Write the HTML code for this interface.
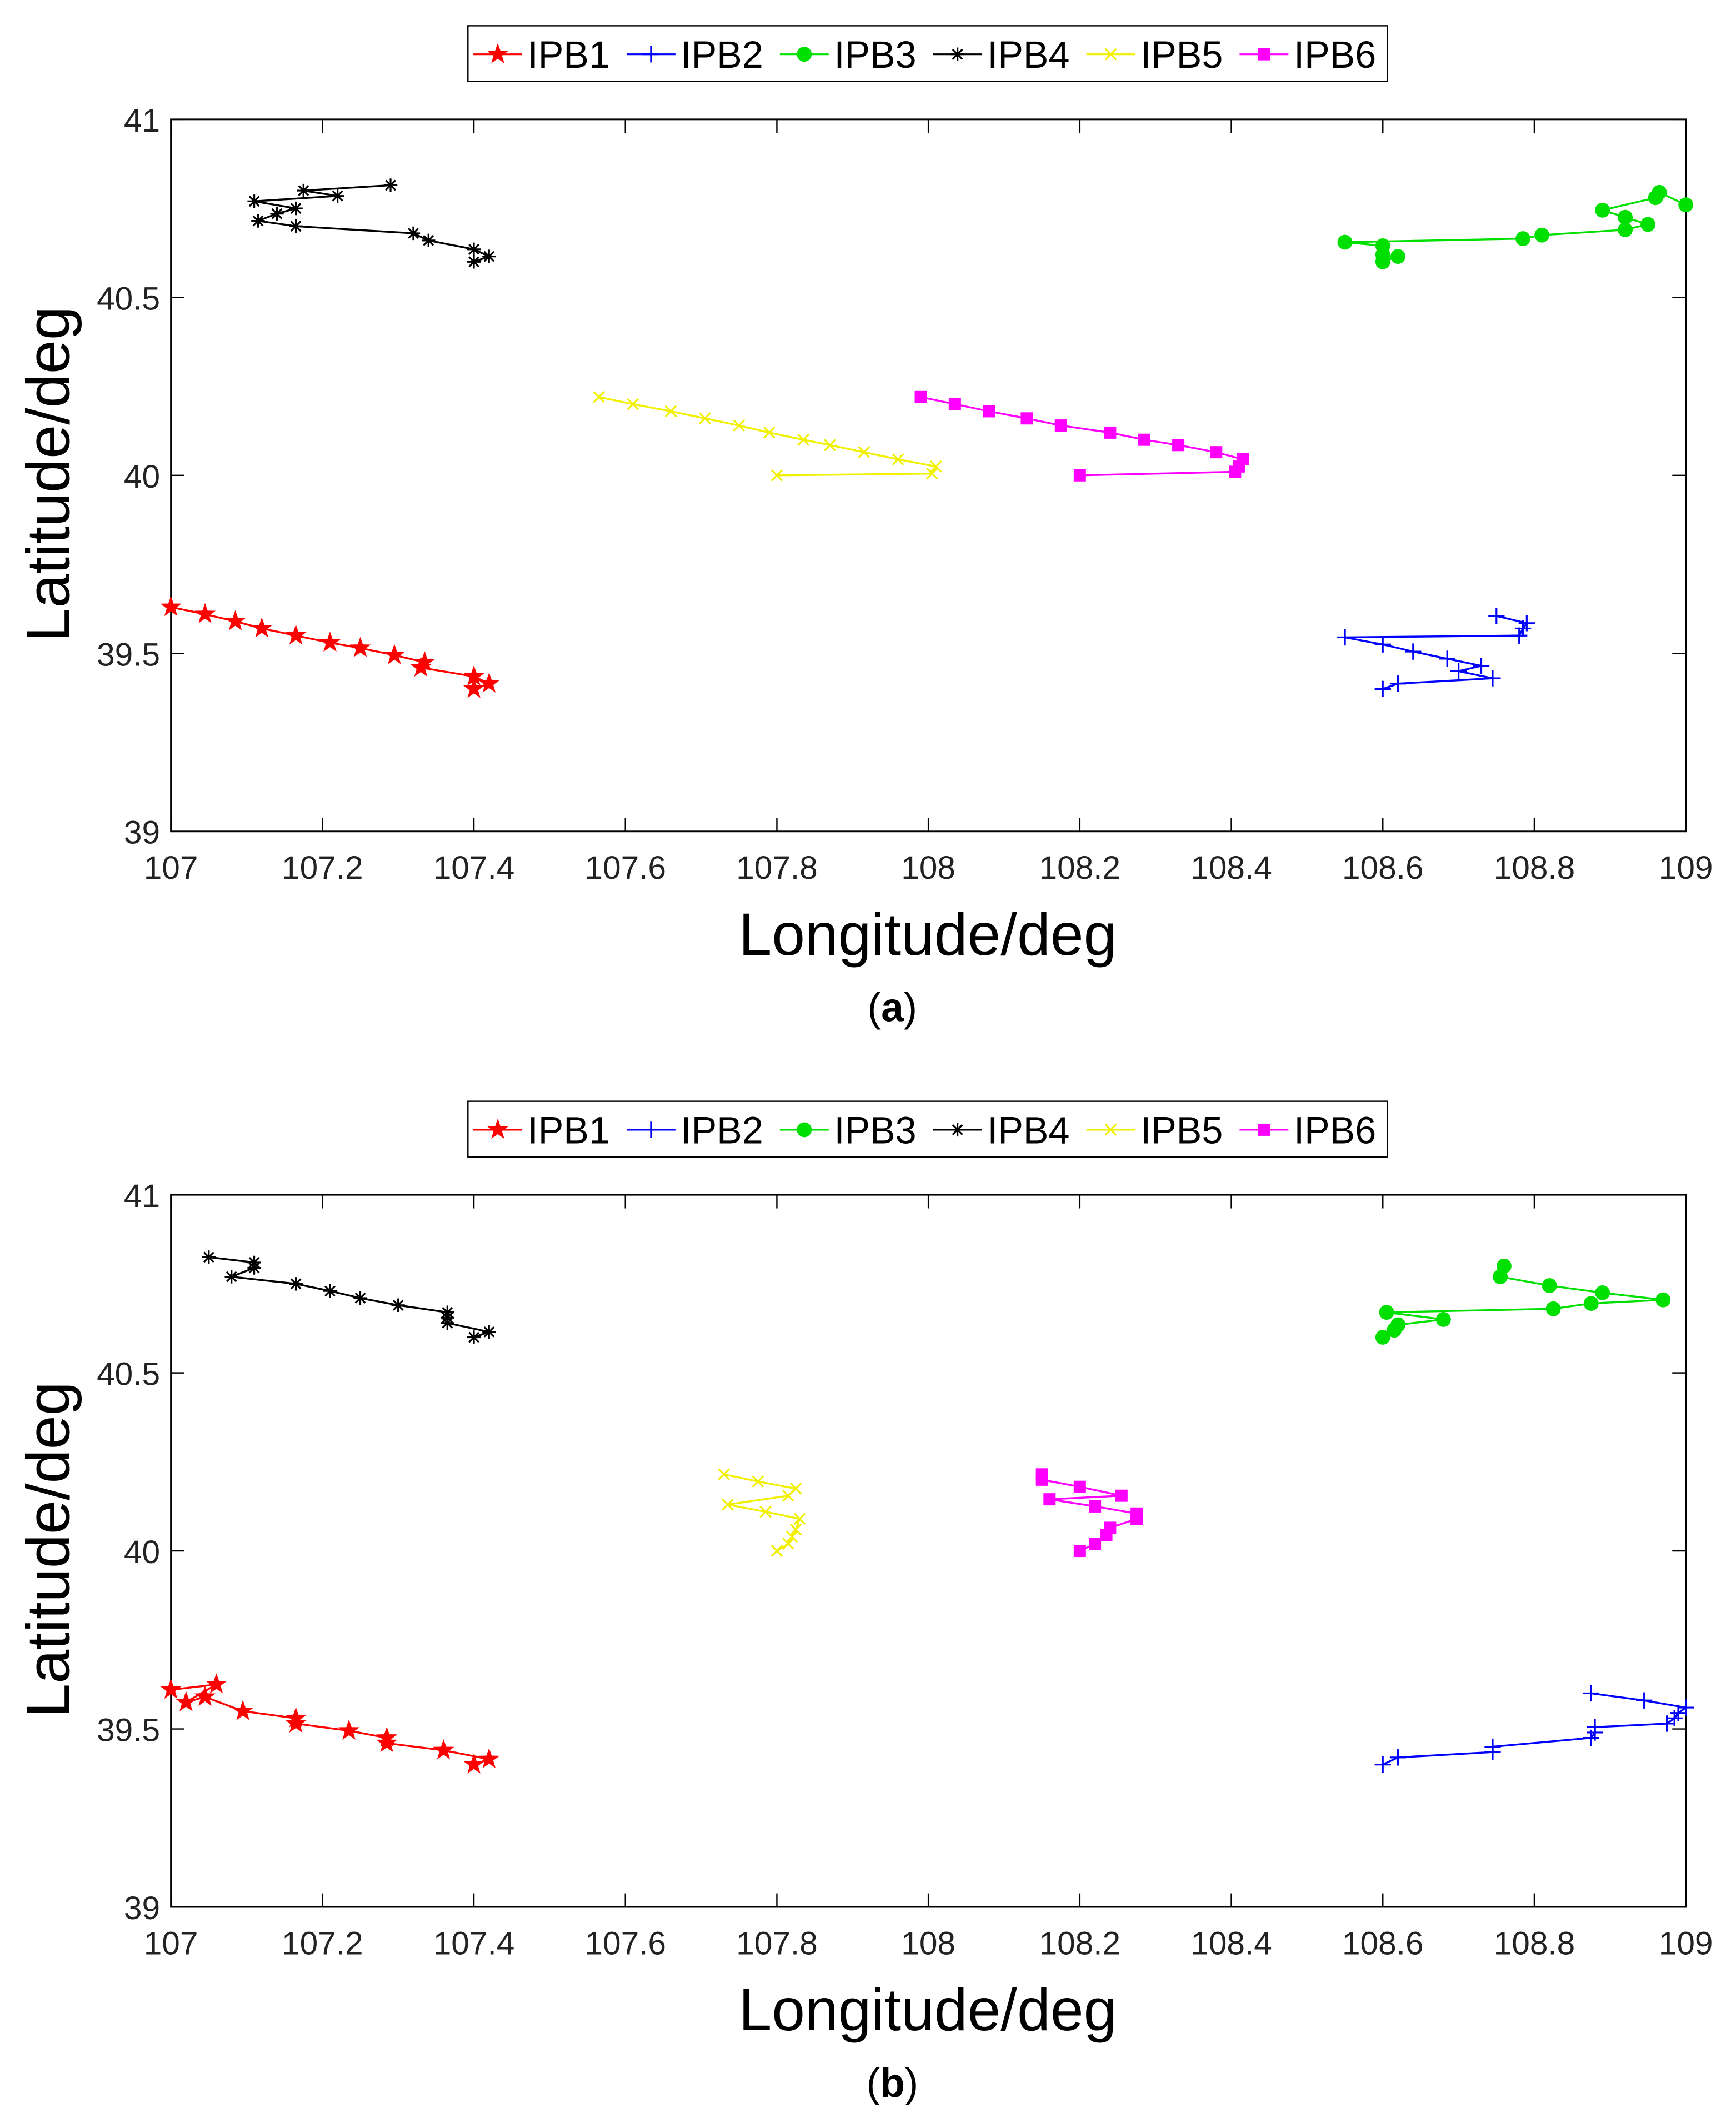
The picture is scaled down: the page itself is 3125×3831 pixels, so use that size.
<!DOCTYPE html>
<html><head><meta charset="utf-8"><style>
html,body{margin:0;padding:0;background:#fff;}
svg{display:block;}
text{font-family:"Liberation Sans",Arial,sans-serif;}
</style></head><body>
<svg id="fig" width="3125" height="3831" viewBox="0 0 1280 1569" preserveAspectRatio="none" xmlns="http://www.w3.org/2000/svg"></svg>
<script>
const xTicks=[107,107.2,107.4,107.6,107.8,108,108.2,108.4,108.6,108.8,109];
const xTickLabels=["107","107.2","107.4","107.6","107.8","108","108.2","108.4","108.6","108.8","109"];
const yTicks=[39,39.5,40,40.5,41];
const yTickLabels=["39","39.5","40","40.5","41"];
const seriesNames=["IPB1","IPB2","IPB3","IPB4","IPB5","IPB6"];
// panel (a)
const a_IPB1_lon=[107,107.045,107.085,107.12,107.165,107.21,107.25,107.295,107.335,107.33,107.4,107.42,107.4];
const a_IPB1_lat=[39.63,39.61,39.59,39.57,39.55,39.53,39.515,39.495,39.475,39.46,39.435,39.415,39.4];
const a_IPB2_lon=[108.75,108.79,108.785,108.78,108.55,108.6,108.64,108.685,108.73,108.7,108.745,108.62,108.6];
const a_IPB2_lat=[39.605,39.585,39.57,39.55,39.545,39.525,39.505,39.485,39.465,39.45,39.43,39.415,39.4];
const a_IPB3_lon=[109,108.965,108.96,108.89,108.92,108.95,108.92,108.81,108.785,108.55,108.6,108.6,108.6,108.62];
const a_IPB3_lat=[40.76,40.795,40.78,40.745,40.725,40.705,40.69,40.675,40.665,40.655,40.645,40.62,40.6,40.615];
const a_IPB4_lon=[107.29,107.175,107.22,107.11,107.165,107.14,107.115,107.165,107.32,107.34,107.4,107.42,107.4];
const a_IPB4_lat=[40.815,40.8,40.785,40.77,40.75,40.735,40.715,40.7,40.68,40.66,40.635,40.615,40.6];
const a_IPB5_lon=[107.565,107.61,107.66,107.705,107.75,107.79,107.835,107.87,107.915,107.96,108.01,108.005,107.8];
const a_IPB5_lat=[40.22,40.2,40.18,40.16,40.14,40.12,40.1,40.085,40.065,40.045,40.025,40.005,40];
const a_IPB6_lon=[107.99,108.035,108.08,108.13,108.175,108.24,108.285,108.33,108.38,108.415,108.41,108.405,108.2];
const a_IPB6_lat=[40.22,40.2,40.18,40.16,40.14,40.12,40.1,40.085,40.065,40.045,40.025,40.01,40];
// panel (b)
const b_IPB1_lon=[107,107.06,107.02,107.045,107.095,107.165,107.165,107.235,107.285,107.285,107.36,107.42,107.4];
const b_IPB1_lat=[39.61,39.625,39.575,39.59,39.55,39.53,39.515,39.495,39.475,39.46,39.44,39.415,39.4];
const b_IPB2_lon=[108.875,108.945,109,108.99,108.985,108.975,108.88,108.88,108.875,108.745,108.745,108.62,108.6];
const b_IPB2_lat=[39.6,39.58,39.56,39.545,39.53,39.515,39.505,39.49,39.475,39.45,39.435,39.42,39.4];
const b_IPB3_lon=[108.76,108.755,108.82,108.89,108.97,108.875,108.825,108.605,108.68,108.62,108.615,108.6];
const b_IPB3_lat=[40.8,40.77,40.745,40.725,40.705,40.695,40.68,40.67,40.65,40.635,40.62,40.6];
const b_IPB4_lon=[107.05,107.11,107.11,107.08,107.165,107.21,107.25,107.3,107.365,107.365,107.365,107.42,107.4];
const b_IPB4_lat=[40.825,40.81,40.795,40.77,40.75,40.73,40.71,40.69,40.67,40.655,40.64,40.615,40.6];
const b_IPB5_lon=[107.73,107.775,107.825,107.815,107.735,107.785,107.83,107.825,107.82,107.815,107.8];
const b_IPB5_lat=[40.215,40.195,40.175,40.155,40.13,40.11,40.09,40.06,40.04,40.02,40];
const b_IPB6_lon=[108.15,108.15,108.2,108.255,108.16,108.22,108.275,108.275,108.24,108.235,108.22,108.2];
const b_IPB6_lat=[40.215,40.2,40.18,40.155,40.145,40.125,40.105,40.09,40.065,40.045,40.02,40];

const NS="http://www.w3.org/2000/svg";
const svg=document.getElementById('fig');
function mk(tag,attrs,parent){const e=document.createElementNS(NS,tag);for(const k in attrs)e.setAttribute(k,attrs[k]);(parent||svg).appendChild(e);return e;}
const colors=["#ff0000","#0000ff","#00e000","#000000","#f0f000","#ff00ff"];
const markers=["star","plus","circle","asterisk","x","square"];
function marker(g,type,x,y,c){
  let e;
  if(type==="star"){let p=[];for(let i=0;i<10;i++){const r=i%2?2.8:7;const a=-Math.PI/2+i*Math.PI/5;p.push((x+r*Math.cos(a)).toFixed(2)+","+(y+r*Math.sin(a)).toFixed(2));}
    e=mk('polygon',{points:p.join(' '),fill:c,stroke:c,'stroke-width':0.8},g);}
  else if(type==="plus"){e=mk('path',{d:`M${x-6} ${y}H${x+6}M${x} ${y-6}V${y+6}`,stroke:c,'stroke-width':1.3,fill:'none'},g);}
  else if(type==="circle"){e=mk('circle',{cx:x,cy:y,r:5.5,fill:c},g);}
  else if(type==="asterisk"){e=mk('path',{d:`M${x-5} ${y}H${x+5}M${x} ${y-5}V${y+5}M${x-3.6} ${y-3.6}L${x+3.6} ${y+3.6}M${x-3.6} ${y+3.6}L${x+3.6} ${y-3.6}`,stroke:c,'stroke-width':1.3,fill:'none'},g);}
  else if(type==="x"){e=mk('path',{d:`M${x-4} ${y-4}L${x+4} ${y+4}M${x-4} ${y+4}L${x+4} ${y-4}`,stroke:c,'stroke-width':1.3,fill:'none'},g);}
  else {e=mk('rect',{x:x-4.5,y:y-4.5,width:9,height:9,fill:c},g);}
  return e;
}
function panel(id,top,data,caption){
  const L=126,R=1243,T=top,B=top+525;
  const xs=v=>L+(v-107)/2*(R-L);
  const ys=v=>B-(v-39)/2*(B-T);
  const g=mk('g',{});
  
  
  // legend
  const lg=mk('g',{},g);
  
  
  const ly=top-48;
  mk('rect',{x:345,y:ly-21,width:678,height:41,fill:'#fff',stroke:'#000','stroke-width':1},lg);
  const lx=[349,462,575,688,801,914];
  seriesNames.forEach((n,i)=>{
    const eg=mk('g',{},lg);
    
    
    mk('line',{x1:lx[i],y1:ly,x2:lx[i]+36,y2:ly,stroke:colors[i],'stroke-width':1.3},eg);
    marker(eg,markers[i],lx[i]+18,ly,colors[i]);
    const t=mk('text',{x:lx[i]+40,y:ly+10,'font-size':28,fill:'#000'},eg);t.textContent=n;
  });
  // axes box
  const ax=mk('rect',{x:L,y:T,width:R-L,height:B-T,fill:'#fff',stroke:'#000','stroke-width':1.2},g);
  
  
  xTicks.forEach((v,i)=>{
    const x=xs(v);
    mk('line',{x1:x,y1:B,x2:x,y2:B-10,stroke:'#000','stroke-width':1},g);
    mk('line',{x1:x,y1:T,x2:x,y2:T+10,stroke:'#000','stroke-width':1},g);
    const t=mk('text',{x:x,y:B+35,'font-size':24,'text-anchor':'middle',fill:'#222'},g);
    
    
    t.textContent=xTickLabels[i];
  });
  yTicks.forEach((v,i)=>{
    const y=ys(v);
    mk('line',{x1:L,y1:y,x2:L+10,y2:y,stroke:'#000','stroke-width':1},g);
    mk('line',{x1:R,y1:y,x2:R-10,y2:y,stroke:'#000','stroke-width':1},g);
    const t=mk('text',{x:L-8,y:y+9,'font-size':24,'text-anchor':'end',fill:'#222'},g);
    
    
    t.textContent=yTickLabels[i];
  });
  const xt=mk('text',{x:684,y:B+91,'font-size':44,'text-anchor':'middle',fill:'#000'},g);
  
  
  xt.textContent='Longitude/deg';
  const yt=mk('text',{x:0,y:0,'font-size':45,'text-anchor':'middle',fill:'#000',transform:`translate(51,${(T+B)/2-1}) rotate(-90)`},g);
  
  
  yt.textContent='Latitude/deg';
  const cap=mk('text',{x:658,y:B+140,'font-size':30,'text-anchor':'middle',fill:'#000','font-family':'Liberation Serif, serif'},g);
  
  
  cap.innerHTML='(<tspan font-weight="bold">'+caption+'</tspan>)';
  data.forEach((s,i)=>{
    const sg=mk('g',{},g);
    
    
    const pts=s[0].map((v,j)=>xs(v).toFixed(2)+','+ys(s[1][j]).toFixed(2)).join(' ');
    mk('polyline',{points:pts,fill:'none',stroke:colors[i],'stroke-width':1.4},sg);
    s[0].forEach((v,j)=>{
      const m=marker(sg,markers[i],xs(v),ys(s[1][j]),colors[i]);
      
      
    });
  });
}
panel('a',88,[[a_IPB1_lon,a_IPB1_lat],[a_IPB2_lon,a_IPB2_lat],[a_IPB3_lon,a_IPB3_lat],[a_IPB4_lon,a_IPB4_lat],[a_IPB5_lon,a_IPB5_lat],[a_IPB6_lon,a_IPB6_lat]],'a');
panel('b',881,[[b_IPB1_lon,b_IPB1_lat],[b_IPB2_lon,b_IPB2_lat],[b_IPB3_lon,b_IPB3_lat],[b_IPB4_lon,b_IPB4_lat],[b_IPB5_lon,b_IPB5_lat],[b_IPB6_lon,b_IPB6_lat]],'b');
</script>
</body></html>
